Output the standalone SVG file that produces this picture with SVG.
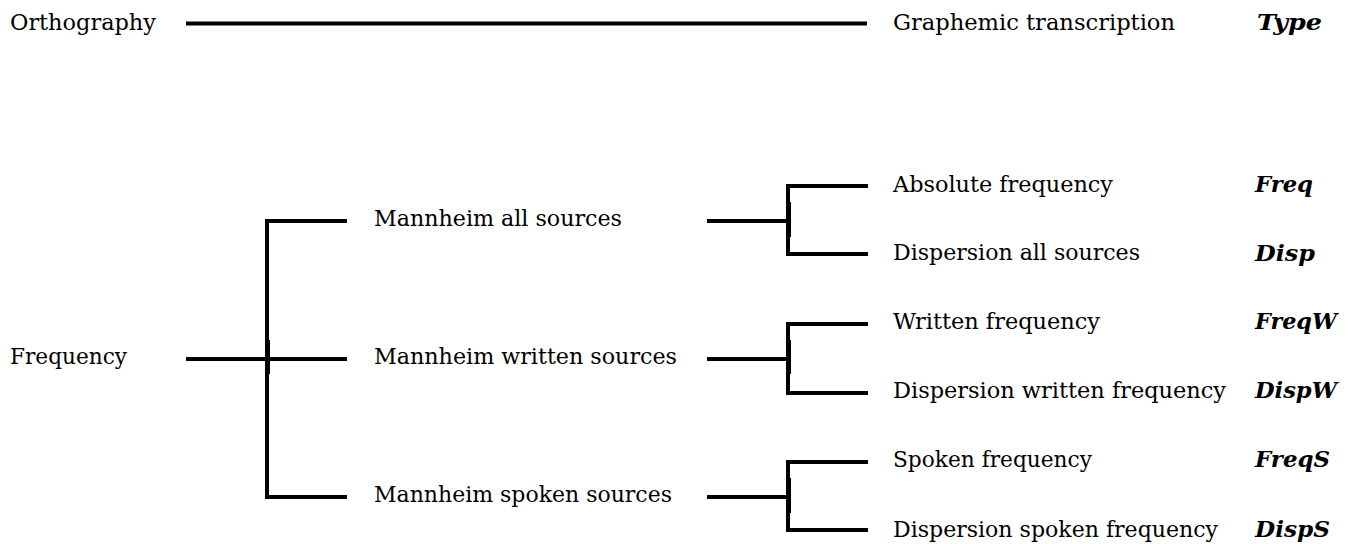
<svg xmlns="http://www.w3.org/2000/svg" width="1351" height="544" viewBox="0 0 1351 544">
<style>
.t{font-family:"DejaVu Serif","Liberation Serif",serif;font-size:22px;fill:#000}
.v{font-family:"DejaVu Serif","Liberation Serif",serif;font-size:23px;font-weight:bold;font-style:italic;fill:#000}
.c{stroke:#000;stroke-width:4;fill:none;stroke-linecap:butt}
.k{stroke:#000;stroke-width:3;fill:none}
</style>
<rect width="1351" height="544" fill="#fff"/>
<g id="connectors">
<line class="c" x1="186" y1="23.5" x2="867" y2="23.5"/>
<path class="c" d="M347,221 H267 V497 H347"/>
<line class="c" x1="186" y1="359" x2="347" y2="359"/>
<line class="k" x1="268.5" y1="340" x2="268.5" y2="374"/>
<line class="c" x1="707" y1="221" x2="788" y2="221"/>
<path class="c" d="M868,186 H788 V254 H868"/>
<line class="k" x1="789.5" y1="202" x2="789.5" y2="237"/>
<line class="c" x1="707" y1="359" x2="788" y2="359"/>
<path class="c" d="M868,324 H788 V393 H868"/>
<line class="k" x1="789.5" y1="340" x2="789.5" y2="374"/>
<line class="c" x1="707" y1="497" x2="788" y2="497"/>
<path class="c" d="M868,462 H788 V530 H868"/>
<line class="k" x1="789.5" y1="478" x2="789.5" y2="513"/>
</g>
<g id="orthography"><text class="t" x="10" y="30" textLength="146" lengthAdjust="spacingAndGlyphs">Orthography</text></g>
<g id="graphemic"><text class="t" x="893" y="30" textLength="282" lengthAdjust="spacingAndGlyphs">Graphemic transcription</text></g>
<g id="type"><text class="v" x="1257" y="30" textLength="65" lengthAdjust="spacingAndGlyphs">Type</text></g>
<g id="frequency"><text class="t" x="10" y="364" textLength="117" lengthAdjust="spacingAndGlyphs">Frequency</text></g>
<g id="mall"><text class="t" x="374" y="226" textLength="248" lengthAdjust="spacingAndGlyphs">Mannheim all sources</text></g>
<g id="mwritten"><text class="t" x="374" y="364" textLength="303" lengthAdjust="spacingAndGlyphs">Mannheim written sources</text></g>
<g id="mspoken"><text class="t" x="374" y="502" textLength="298" lengthAdjust="spacingAndGlyphs">Mannheim spoken sources</text></g>
<g id="absfreq"><text class="t" x="893" y="192" textLength="220" lengthAdjust="spacingAndGlyphs">Absolute frequency</text></g>
<g id="dispall"><text class="t" x="893" y="260" textLength="247" lengthAdjust="spacingAndGlyphs">Dispersion all sources</text></g>
<g id="writfreq"><text class="t" x="893" y="329" textLength="207" lengthAdjust="spacingAndGlyphs">Written frequency</text></g>
<g id="dispwrit"><text class="t" x="893" y="398" textLength="333" lengthAdjust="spacingAndGlyphs">Dispersion written frequency</text></g>
<g id="spokfreq"><text class="t" x="893" y="467" textLength="199" lengthAdjust="spacingAndGlyphs">Spoken frequency</text></g>
<g id="dispspok"><text class="t" x="893" y="537" textLength="325" lengthAdjust="spacingAndGlyphs">Dispersion spoken frequency</text></g>
<g id="freq"><text class="v" x="1255" y="192" textLength="58" lengthAdjust="spacingAndGlyphs">Freq</text></g>
<g id="disp"><text class="v" x="1255" y="261" textLength="60" lengthAdjust="spacingAndGlyphs">Disp</text></g>
<g id="freqw"><text class="v" x="1255" y="329" textLength="82" lengthAdjust="spacingAndGlyphs">FreqW</text></g>
<g id="dispw"><text class="v" x="1255" y="398" textLength="82" lengthAdjust="spacingAndGlyphs">DispW</text></g>
<g id="freqs"><text class="v" x="1255" y="467" textLength="75" lengthAdjust="spacingAndGlyphs">FreqS</text></g>
<g id="disps"><text class="v" x="1255" y="537" textLength="75" lengthAdjust="spacingAndGlyphs">DispS</text></g>
</svg>
